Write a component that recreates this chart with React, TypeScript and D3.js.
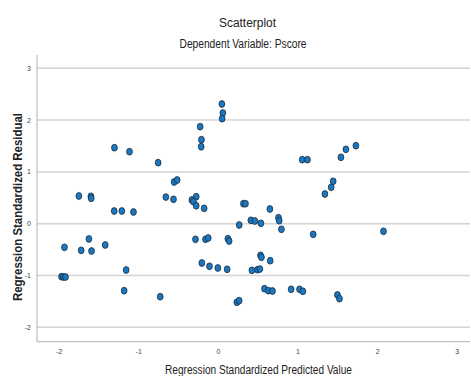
import React from "react";
import * as d3 from "d3";

const predicted: number[] = [
  0.043, 0.055, 0.046, -0.23, -0.214, -0.217, -0.758, -1.307, -1.118, 1.052,
  1.118, 1.538, 1.601, 1.726, 1.337, 1.416, 1.441, -0.557, -0.519, -0.661,
  -0.565, -0.334, -0.28, -0.314, -0.28, -0.18, 0.314, 0.339, 0.646, 0.26,
  0.407, 0.457, 0.533, 0.754, 0.763, 0.791, -0.289, -0.163, -0.129, 0.118,
  0.134, -0.209, -0.113, -0.008, 0.109, 0.42, 0.49, 0.52, 0.528, 0.54,
  0.65, 0.578, 0.628, 0.678, 0.913, 1.018, 1.06, 0.231, 0.26, -1.754,
  -1.603, -1.599, -1.31, -1.214, -1.068, -1.935, -1.725, -1.628, -1.595, -1.423,
  -1.972, -1.947, -1.922, -1.16, -1.185, -0.732, 1.19, 2.073, 1.495, 1.52,
];
const residual: number[] = [
  2.311, 2.137, 2.027, 1.873, 1.622, 1.486, 1.178, 1.467, 1.39, 1.236,
  1.236, 1.282, 1.436, 1.506, 0.573, 0.703, 0.819, 0.805, 0.844, 0.515,
  0.471, 0.458, 0.521, 0.425, 0.347, 0.297, 0.386, 0.386, 0.284, -0.025,
  0.066, 0.052, 0.008, 0.116, 0.058, -0.108, -0.301, -0.301, -0.276, -0.29,
  -0.334, -0.759, -0.822, -0.855, -0.88, -0.9, -0.888, -0.875, -0.61, -0.649,
  -0.714, -1.255, -1.293, -1.299, -1.266, -1.266, -1.305, -1.517, -1.486, 0.535,
  0.529, 0.49, 0.245, 0.245, 0.226, -0.456, -0.514, -0.295, -0.527, -0.411,
  -1.023, -1.029, -1.029, -0.894, -1.293, -1.409, -0.205, -0.147, -1.376, -1.448,
];
const xTicks: number[] = [-2, -1, 0, 1, 2, 3];
const yTicks: number[] = [-2, -1, 0, 1, 2, 3];
const title = "Scatterplot";
const subtitle = "Dependent Variable: Pscore";
const xLabel = "Regression Standardized Predicted Value";
const yLabel = "Regression Standardized Residual";

const W = 471;
const H = 376;
const FONT = "'Liberation Sans Narrow', 'Arial Narrow', 'Liberation Sans', Arial, sans-serif";

export default function App() {
  const x = d3.scaleLinear().domain([-2.28, 3.16]).range([37, 470]);
  const y = d3.scaleLinear().domain([-2.278, 3.257]).range([341.7, 55]);
  const pts = predicted.map((p, i) => ({ p, r: residual[i] }));
  return (
    <svg width={W} height={H} style={{ position: "absolute", left: 0, top: 0, background: "#fff" }}>
      <text x={247.5} y={26.5} textAnchor="middle" fontFamily={FONT} fontSize={12} fill="#222"
        textLength={57} lengthAdjust="spacingAndGlyphs">{title}</text>
      <text x={243} y={47.5} textAnchor="middle" fontFamily={FONT} fontSize={12} fill="#222"
        textLength={127} lengthAdjust="spacingAndGlyphs">{subtitle}</text>
      {yTicks.map((t) => (
        <line key={"g" + t} x1={x.range()[0]} x2={470} y1={y(t)} y2={y(t)} stroke="#d4d4d4" strokeWidth={1.5} />
      ))}
      <line x1={37} x2={37} y1={55} y2={341.7} stroke="#b0b0b0" strokeWidth={1} />
      <line x1={37} x2={470} y1={341.7} y2={341.7} stroke="#b0b0b0" strokeWidth={1} />
      {yTicks.map((t) => (
        <text key={"yt" + t} x={31} y={y(t) + 2.5} textAnchor="end" fontFamily={FONT} fontSize={7} fill="#444">{t}</text>
      ))}
      {xTicks.map((t) => (
        <text key={"xt" + t} x={x(t)} y={354} textAnchor="middle" fontFamily={FONT} fontSize={7} fill="#444">{t}</text>
      ))}
      <text x={258.5} y={374} textAnchor="middle" fontFamily={FONT} fontSize={12} fill="#222"
        textLength={187} lengthAdjust="spacingAndGlyphs">{xLabel}</text>
      <text transform={`translate(22,207) rotate(-90)`} textAnchor="middle" fontFamily={FONT} fontSize={12}
        fontWeight="bold" fill="#222" textLength={188} lengthAdjust="spacingAndGlyphs">{yLabel}</text>
      {pts.map((d, i) => (
        <ellipse key={i} cx={x(d.p)} cy={y(d.r)} rx={2.9} ry={3.4} fill="#1a78c2" stroke="#1b2a38" strokeWidth={0.8} />
      ))}
    </svg>
  );
}
